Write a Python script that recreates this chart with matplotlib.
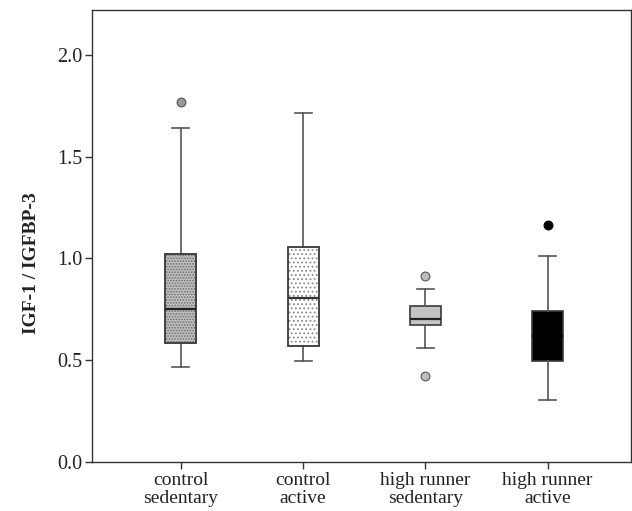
import matplotlib
matplotlib.use("Agg")
import matplotlib.pyplot as plt

# Group labels and box statistics
groups = ["control\nsedentary", "control\nactive", "high runner\nsedentary", "high runner\nactive"]
q1 = [0.585, 0.570, 0.672, 0.496]
median = [0.750, 0.805, 0.700, 0.620]
q3 = [1.020, 1.058, 0.767, 0.742]
whislo = [0.467, 0.495, 0.562, 0.305]
whishi = [1.640, 1.715, 0.850, 1.010]
fliers = [[1.77], [], [0.914, 0.420], [1.165]]

face_colors = ["#c0c0c0", "white", "#c4c4c4", "black"]
hatches = ["......", "....", None, None]
hatch_colors = ["#6a6a6a", "#8a8a8a", None, None]
flier_colors = ["#9a9a9a", "#9a9a9a", "#bdbdbd", "black"]
median_colors = ["#222222", "#333333", "#222222", "black"]

plt.rcParams["font.family"] = ["Liberation Serif", "DejaVu Serif"]
plt.rcParams["hatch.linewidth"] = 0.8

fig = plt.figure(figsize=(6.32, 5.11), dpi=100)
ax = fig.add_axes([0.1456, 0.0959, 0.8524, 0.8845])

positions = [1, 2, 3, 4]
stats = []
for i in range(len(groups)):
    stats.append({
        "q1": q1[i], "med": median[i], "q3": q3[i],
        "whislo": whislo[i], "whishi": whishi[i], "fliers": fliers[i],
    })

line_color = "#3a3a3a"
bp = ax.bxp(stats, positions=positions, widths=0.255, patch_artist=True,
            showfliers=False,
            boxprops=dict(edgecolor=line_color, linewidth=1.2),
            medianprops=dict(color="#222222", linewidth=1.6),
            whiskerprops=dict(color="#555555", linewidth=1.2),
            capprops=dict(color="#555555", linewidth=1.2),
            capwidths=0.14)

for i, box in enumerate(bp["boxes"]):
    box.set_facecolor(face_colors[i])
    if hatches[i]:
        box.set_hatch(hatches[i])
        box.set_edgecolor(hatch_colors[i])
        # redraw outline in the line colour
        ax.add_patch(plt.Rectangle((positions[i] - 0.1275, q1[i]), 0.255, q3[i] - q1[i],
                                   fill=False, edgecolor=line_color, linewidth=1.2, zorder=3))
for i, med in enumerate(bp["medians"]):
    med.set_color(median_colors[i])
    med.set_zorder(4)

for i, vals in enumerate(fliers):
    if vals:
        ax.scatter([positions[i]] * len(vals), vals, s=40, color=flier_colors[i],
                   edgecolors="#555555" if flier_colors[i] != "black" else "black",
                   linewidths=0.8, zorder=4)

ax.set_xlim(0.273, 4.68)
ax.set_ylim(0, 2.22)
ax.set_yticks([0.0, 0.5, 1.0, 1.5, 2.0])
ax.set_yticklabels(["0.0", "0.5", "1.0", "1.5", "2.0"])
ax.set_xticks(positions)
ax.set_xticklabels(groups, linespacing=1.1)
ax.tick_params(axis="both", direction="out", length=5, width=1.0, color="#333333",
               labelsize=14.5, labelcolor="#222222")
ax.tick_params(axis="x", pad=2, labelsize=14)
ax.tick_params(axis="y", pad=2)

for side in ["left", "right", "top", "bottom"]:
    ax.spines[side].set_color("#333333")
    ax.spines[side].set_linewidth(1.0)

ax.set_ylabel("IGF-1 / IGFBP-3", fontsize=14, fontweight="bold", color="#222222")
ax.yaxis.set_label_coords(-0.097, 0.44)

fig.savefig("out.png", dpi=100)
